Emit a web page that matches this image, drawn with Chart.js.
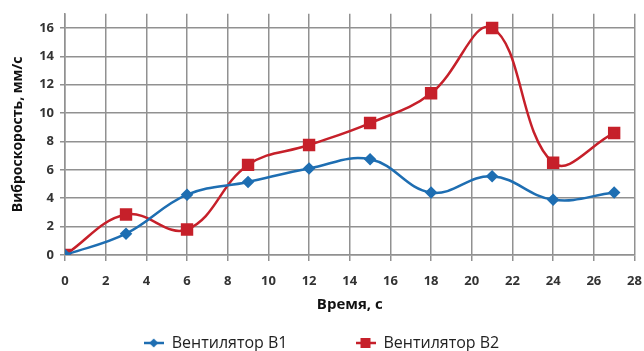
<!DOCTYPE html>
<html>
<head>
<meta charset="utf-8">
<script src="https://cdn.jsdelivr.net/npm/chart.js"></script>
<style>
  html, body { margin: 0; padding: 0; background: #fff; }
  #wrap { width: 644px; height: 351px; }
</style>
</head>
<body>
<div id="wrap"><canvas id="chart"></canvas></div>
<script>
// time, s
const time = [0, 3, 6, 9, 12, 15, 18, 21, 24, 27];
// vibration velocity, mm/s
const fanB1 = [0, 1.5, 4.25, 5.15, 6.1, 6.75, 4.4, 5.55, 3.9, 4.4];
const fanB2 = [0, 2.85, 1.8, 6.35, 7.75, 9.3, 11.4, 16.0, 6.5, 8.6];
const yTicks = [0, 2, 4, 6, 8, 10, 12, 14, 16];
const seriesNames = ['Вентилятор B1', 'Вентилятор B2'];
const blue = 'rgb(30,110,178)';
const red = 'rgb(198,32,42)';
const gridColor = 'rgb(145,145,145)';
const font = '"Open Sans", "DejaVu Sans", sans-serif';

const legendGap = 68;     // space between the two legend items
const legendHeight = 22;

function legendIcon(color, kind) {
  const c = document.createElement('canvas');
  c.width = 20; c.height = 12;
  const g = c.getContext('2d');
  g.strokeStyle = color; g.lineWidth = 2.5;
  g.beginPath(); g.moveTo(0, 6); g.lineTo(20, 6); g.stroke();
  g.fillStyle = color;
  g.beginPath();
  if (kind === 'rect') {
    g.rect(5, 1, 10, 10);
  } else {
    g.moveTo(10, 1.5); g.lineTo(14.5, 6); g.lineTo(10, 10.5); g.lineTo(5.5, 6);
  }
  g.fill();
  return c;
}
const icons = [legendIcon(blue, 'rectRot'), legendIcon(red, 'rect')];

// legend: wide gap between items but a short box
const legendBox = {
  id: 'legendBox',
  beforeLayout(chart) {
    const lg = chart.legend;
    if (lg && !lg._shortFit) {
      const fit = lg.fit;
      lg.fit = function () { fit.call(this); this.height = legendHeight; };
      lg._shortFit = true;
    }
  },
  afterLayout(chart) {
    const lg = chart.legend;
    if (lg) lg.top = lg.bottom - legendHeight - legendGap + 6;
  }
};

new Chart('chart', {
  type: 'line',
  data: {
    datasets: [
      {
        label: seriesNames[0],
        data: time.map((t, i) => ({ x: t, y: fanB1[i] })),
        borderColor: blue,
        backgroundColor: blue,
        borderWidth: 2.5,
        pointStyle: 'rectRot',
        pointRadius: 4.5,
        tension: 0.4
      },
      {
        label: seriesNames[1],
        data: time.map((t, i) => ({ x: t, y: fanB2[i] })),
        borderColor: red,
        backgroundColor: red,
        borderWidth: 2.5,
        pointStyle: 'rect',
        pointRadius: 7,
        tension: 0.4
      }
    ]
  },
  options: {
    responsive: true,
    maintainAspectRatio: false,
    animation: false,
    layout: { padding: { top: 13, right: 1, left: 0, bottom: 0 } },
    plugins: {
      tooltip: { enabled: false },
      legend: {
        position: 'bottom',
        labels: {
          usePointStyle: true,
          pointStyleWidth: 20,
          padding: legendGap,
          color: '#222',
          font: { family: font, size: 16 },
          generateLabels: chart => {
            const items = Chart.defaults.plugins.legend.labels.generateLabels(chart);
            items.forEach((it, i) => { it.pointStyle = icons[i]; });
            return items;
          }
        }
      }
    },
    scales: {
      x: {
        type: 'linear',
        min: 0,
        max: 28,
        afterFit: s => { s.height = 74; s.paddingRight = 8; },
        ticks: { stepSize: 2, color: '#333', padding: 12, font: { family: font, size: 13, weight: 'bold' } },
        grid: { color: gridColor, lineWidth: 1.5, tickLength: 6 },
        border: { color: gridColor, width: 1.5 },
        title: { display: true, text: 'Время, с', color: '#111', padding: { top: 4, bottom: 15 }, font: { family: font, size: 15, weight: 'bold' } }
      },
      y: {
        min: 0,
        max: 17,
        afterBuildTicks: s => { s.ticks = yTicks.map(v => ({ value: v })); },
        afterFit: s => { s.width = 65; },
        ticks: { color: '#333', padding: 6, font: { family: font, size: 13, weight: 'bold' } },
        grid: { color: gridColor, lineWidth: 1.5, tickLength: 5 },
        border: { color: gridColor, width: 1.5 },
        title: { display: true, text: 'Виброскорость, мм/с', color: '#111', padding: { top: 10, bottom: 0 }, font: { family: font, size: 14, weight: 'bold' } }
      }
    }
  },
  plugins: [legendBox]
});
</script>
</body>
</html>
